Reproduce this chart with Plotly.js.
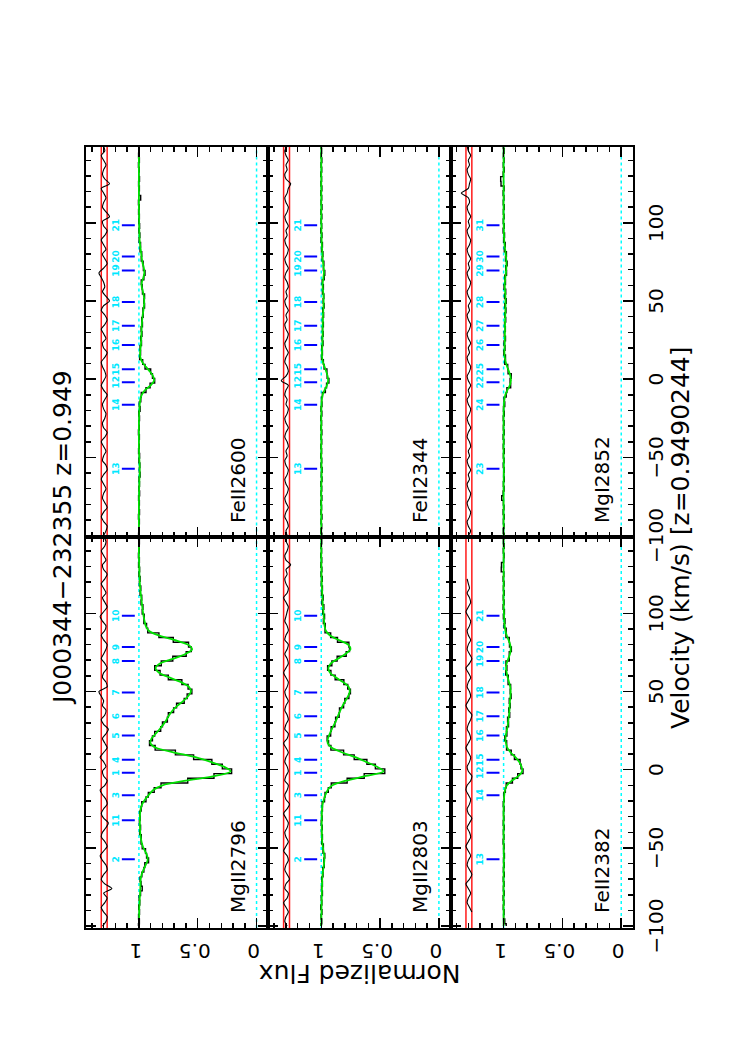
<!DOCTYPE html>
<html>
<head>
<meta charset="utf-8">
<script src="https://cdn.plot.ly/plotly-3.0.1.min.js"></script>
<style>
  html, body { margin: 0; padding: 0; background: #fff; overflow: hidden; }
  /* the figure is drawn landscape, then turned onto the portrait page */
  #page { position: absolute; left: 0; top: 0; width: 1058px; height: 747px;
          transform-origin: 0 0; transform: translate(0px, 1058px) rotate(-90deg); }
</style>
</head>
<body>
<div id="page"></div>
<script>
// pixel velocities (km/s)
const vel = [-100,-97,-94,-91,-88,-85,-82,-79,-76,-73,-70,-67,-64,-61,-58,-55,-52,-49,-46,-43,-40,-37,-34,-31,
  -28,-25,-22,-19,-16,-13,-10,-7,-4,-1,2,5,8,11,14,17,20,23,26,29,32,35,38,41,44,47,50,53,56,59,
  62,65,68,71,74,77,80,83,86,89,92,95,98,101,104,107,110,113,116,119,122,125,128,131,134,137,140,143,146,149];

// MgII 2796
const mg2796Model = [1.0,1.0,0.998,0.998,0.997,0.995,0.993,0.99,0.988,0.987,0.985,0.977,
  0.962,0.943,0.926,0.93,0.948,0.967,0.978,0.985,0.989,0.991,0.992,0.992,
  0.99,0.985,0.972,0.948,0.915,0.878,0.80,0.60,0.35,0.22,0.28,0.39,
  0.52,0.70,0.855,0.902,0.892,0.858,0.823,0.792,0.765,0.742,0.712,0.672,
  0.622,0.582,0.558,0.575,0.642,0.742,0.828,0.858,0.818,0.705,0.605,0.548,
  0.585,0.70,0.838,0.918,0.942,0.952,0.96,0.966,0.971,0.976,0.98,0.985,
  0.989,0.992,0.994,0.996,0.997,0.998,0.999,1.0,1.0,1.0,1.0,1.0];
const mg2796Flux = [1.004,0.996,1.003,0.995,1.002,0.993,0.998,0.986,0.972,0.982,0.99,0.975,
  0.958,0.95,0.918,0.935,0.944,0.972,0.982,0.98,0.994,0.986,0.996,0.99,
  0.994,0.981,0.976,0.94,0.92,0.87,0.812,0.585,0.362,0.212,0.291,0.38,
  0.535,0.69,0.862,0.91,0.885,0.866,0.815,0.8,0.758,0.75,0.705,0.68,
  0.615,0.59,0.55,0.582,0.635,0.75,0.82,0.866,0.81,0.712,0.598,0.555,
  0.578,0.708,0.83,0.925,0.935,0.958,0.955,0.972,0.966,0.982,0.976,0.99,
  0.984,0.996,0.99,1.0,0.994,1.003,0.996,1.004,0.997,1.002,0.996,1.003];
const mg2796Resid = [1.31,1.28,1.27,1.30,1.32,1.29,1.27,1.30,1.23,1.29,1.32,1.30,
  1.27,1.28,1.31,1.33,1.30,1.27,1.29,1.32,1.31,1.28,1.26,1.30,
  1.32,1.30,1.27,1.28,1.31,1.33,1.29,1.27,1.30,1.31,1.28,1.30,
  1.33,1.30,1.27,1.29,1.31,1.28,1.26,1.30,1.32,1.29,1.28,1.31,
  1.30,1.32,1.34,1.27,1.28,1.31,1.30,1.27,1.29,1.32,1.30,1.28,
  1.27,1.30,1.32,1.29,1.28,1.31,1.33,1.30,1.27,1.29,1.31,1.28,
  1.30,1.32,1.29,1.27,1.30,1.31,1.28,1.30,1.32,1.29,1.28,1.30];

// MgII 2803
const mg2803Model = [1.0,0.999,0.999,0.998,0.998,0.997,0.996,0.995,0.994,0.993,0.992,0.989,
  0.984,0.978,0.974,0.975,0.981,0.987,0.992,0.994,0.995,0.996,0.996,0.996,
  0.995,0.993,0.988,0.978,0.964,0.945,0.905,0.79,0.62,0.47,0.53,0.62,
  0.71,0.82,0.91,0.945,0.943,0.928,0.91,0.89,0.871,0.855,0.838,0.818,
  0.795,0.772,0.758,0.768,0.815,0.875,0.925,0.94,0.918,0.858,0.795,0.752,
  0.772,0.855,0.928,0.962,0.972,0.976,0.979,0.982,0.985,0.988,0.99,0.992,
  0.994,0.996,0.997,0.998,0.999,0.999,1.0,1.0,1.0,1.0,1.0,1.0];
const mg2803Flux = [1.003,0.996,1.002,0.994,1.004,0.995,1.0,0.99,0.998,0.99,0.996,0.985,
  0.988,0.975,0.978,0.97,0.985,0.982,0.996,0.99,0.998,0.992,1.0,0.993,
  0.998,0.99,0.992,0.972,0.968,0.94,0.915,0.78,0.635,0.46,0.54,0.612,
  0.72,0.81,0.918,0.938,0.95,0.92,0.916,0.884,0.878,0.848,0.845,0.81,
  0.8,0.765,0.752,0.775,0.808,0.882,0.918,0.946,0.91,0.865,0.788,0.76,
  0.765,0.862,0.92,0.968,0.966,0.982,0.972,0.988,0.978,0.994,0.984,0.998,
  0.99,1.0,0.992,1.002,0.995,1.003,0.996,1.004,0.997,1.002,0.996,1.003];
const mg2803Resid = [1.29,1.31,1.30,1.28,1.30,1.32,1.29,1.28,1.31,1.30,1.27,1.29,
  1.31,1.30,1.28,1.29,1.32,1.30,1.28,1.30,1.31,1.29,1.28,1.30,
  1.32,1.29,1.27,1.30,1.31,1.29,1.28,1.31,1.30,1.28,1.29,1.31,
  1.30,1.28,1.30,1.32,1.29,1.28,1.31,1.30,1.28,1.29,1.31,1.30,
  1.28,1.30,1.31,1.29,1.28,1.30,1.32,1.30,1.28,1.29,1.31,1.29,
  1.28,1.31,1.30,1.28,1.29,1.31,1.30,1.29,1.28,1.30,1.32,1.29,
  1.28,1.30,1.31,1.29,1.30,1.26,1.30,1.31,1.29,1.28,1.30,1.31];

// FeII 2382
const fe2382Model = [1,1,1,1,1,1,1,1,1,1,
  1,1,0.999,0.999,0.998,0.998,0.999,1,1,1,
  1,1,1,1,1,1,0.999,0.997,0.994,0.988,
  0.972,0.93,0.872,0.842,0.848,0.868,0.9,0.94,0.968,0.98,
  0.984,0.979,0.97,0.964,0.959,0.954,0.95,0.949,0.946,0.942,
  0.94,0.944,0.954,0.965,0.974,0.979,0.974,0.96,0.946,0.94,
  0.944,0.958,0.974,0.985,0.99,0.994,0.996,0.998,0.999,1,
  1,1,1,1,1,1,1,1,1,1,
  1,1,1,1];
const fe2382Flux = [0.978,0.99,1.0,0.996,1.003,0.997,1.004,0.995,1.002,0.996,
  1.003,0.994,1.002,0.995,1.001,0.993,1.0,0.996,1.004,0.997,
  1.002,0.995,1.003,0.997,1.001,0.996,1.003,0.994,0.998,0.985,
  0.978,0.925,0.88,0.835,0.852,0.86,0.908,0.935,0.975,0.974,
  0.99,0.972,0.976,0.958,0.966,0.948,0.956,0.944,0.952,0.936,
  0.944,0.94,0.962,0.96,0.982,0.972,0.98,0.952,0.952,0.934,
  0.95,0.952,0.98,0.978,0.996,0.988,1.002,0.993,1.004,0.996,
  1.003,0.995,1.002,0.996,1.004,0.998,1.02,1.018,1.0,0.996,
  1.003,0.995,1.002,0.997];
const fe2382Resid = [null,null,null,1.27,1.29,1.31,1.30,1.28,1.30,1.32,1.29,1.27,
  1.29,1.31,1.30,1.28,1.30,1.32,1.30,1.28,1.29,1.31,1.29,1.27,
  1.30,1.31,1.29,1.28,1.30,1.32,1.31,1.28,1.27,1.30,1.31,1.29,
  1.28,1.30,1.32,1.30,1.28,1.29,1.31,1.30,1.28,1.27,1.30,1.32,
  1.30,1.28,1.29,1.31,1.30,1.28,1.30,1.32,1.29,1.27,1.29,1.31,
  1.30,1.28,1.30,1.31,1.29,1.28,1.30,1.32,1.30,1.28,1.29,1.31,
  1.29,1.30,1.31,null,null,null,null,null,null,null,null,null];

// FeII 2600
const fe2600Model = [1,1,1,1,1,1,1,1,0.999,0.999,
  0.998,0.997,0.996,0.994,0.993,0.994,0.996,0.998,0.999,1,
  1,1,1,1,1,0.999,0.998,0.996,0.993,0.988,
  0.976,0.948,0.9,0.872,0.88,0.908,0.942,0.972,0.988,0.99,
  0.986,0.982,0.98,0.979,0.977,0.975,0.972,0.968,0.962,0.957,
  0.955,0.958,0.966,0.976,0.975,0.962,0.954,0.958,0.968,0.975,
  0.98,0.985,0.99,0.994,0.996,0.997,0.998,0.998,0.999,0.999,
  1,1,1,1,1,1,1,1,1,1,
  1,1,1,1];
const fe2600Flux = [1.003,0.997,1.002,0.996,1.004,0.995,1.001,0.996,1.003,0.994,
  1.0,0.995,0.999,0.99,0.996,0.992,1.0,0.994,1.003,0.997,
  1.002,0.996,1.004,0.997,1.001,0.995,1.002,0.99,0.997,0.984,
  0.98,0.94,0.905,0.866,0.885,0.9,0.948,0.968,0.994,0.986,
  0.99,0.978,0.985,0.974,0.981,0.97,0.976,0.964,0.966,0.952,
  0.958,0.952,0.97,0.972,0.98,0.958,0.948,0.962,0.964,0.98,
  0.976,0.99,0.986,0.998,0.992,1.0,0.994,1.002,0.996,1.003,
  0.997,1.004,0.985,1.002,0.996,1.003,0.995,1.002,0.997,1.004,
  0.996,1.003,0.997,1.002];
const fe2600Resid = [1.30,1.28,1.27,1.30,1.32,1.30,1.27,1.29,1.31,1.30,1.28,1.30,
  1.32,1.30,1.27,1.28,1.31,1.30,1.28,1.30,1.32,1.29,1.27,1.30,
  1.31,1.29,1.28,1.30,1.31,1.29,1.27,1.30,1.32,1.30,1.28,1.29,
  1.31,1.32,1.29,1.27,1.30,1.31,1.28,1.30,1.32,1.29,1.27,1.29,
  1.32,1.30,1.25,1.28,1.31,1.29,1.30,1.32,1.34,1.30,1.27,1.29,
  1.31,1.28,1.30,1.32,1.29,1.27,1.30,1.31,1.25,1.28,1.31,1.30,
  1.28,1.30,1.32,1.25,1.29,1.31,1.30,1.28,1.30,1.32,1.29,1.30];

// FeII 2344
const fe2344Model = [1,1,1,1,1,1,1,1,1,1,
  1,0.999,0.998,0.997,0.997,0.998,0.999,1,1,1,
  1,1,1,1,1,1,1,0.999,0.998,0.995,
  0.988,0.972,0.952,0.942,0.946,0.958,0.972,0.986,0.993,0.994,
  0.992,0.99,0.989,0.988,0.988,0.987,0.986,0.985,0.983,0.981,
  0.98,0.981,0.984,0.988,0.987,0.982,0.977,0.979,0.984,0.988,
  0.99,0.993,0.995,0.997,0.998,0.999,0.999,1,1,1,
  1,1,1,1,1,1,1,1,1,1,
  1,1,1,1];
const fe2344Flux = [0.995,1.004,0.996,1.002,0.994,1.003,0.997,1.004,0.995,1.002,
  0.996,1.003,0.994,1.0,0.993,1.002,0.996,1.004,0.997,1.003,
  0.996,1.002,0.995,1.003,0.997,1.004,0.995,1.002,0.994,0.998,
  0.99,0.965,0.955,0.935,0.95,0.952,0.976,0.982,0.998,0.99,
  0.996,0.985,0.992,0.984,0.99,0.982,0.99,0.98,0.988,0.976,
  0.984,0.978,0.99,0.982,0.992,0.975,0.97,0.982,0.978,0.992,
  0.986,0.998,0.99,1.002,0.994,1.004,0.996,1.002,0.995,1.003,
  0.994,1.002,0.996,1.004,0.995,1.003,0.997,1.004,0.996,1.002,
  0.995,1.003,0.997,1.002];
const fe2344Resid = [1.29,1.30,1.28,1.29,1.31,1.30,1.28,1.30,1.31,1.29,1.28,1.30,
  1.31,1.29,1.28,1.30,1.31,1.29,1.30,1.28,1.29,1.31,1.30,1.28,
  1.30,1.31,1.29,1.28,1.30,1.29,1.31,1.30,1.28,1.34,1.30,1.28,
  1.29,1.31,1.30,1.28,1.30,1.31,1.29,1.28,1.30,1.31,1.29,1.30,
  1.28,1.30,1.31,1.29,1.30,1.28,1.29,1.31,1.30,1.28,1.30,1.31,
  1.29,1.28,1.30,1.31,1.29,1.30,1.28,1.30,1.31,1.29,1.28,1.30,
  1.31,1.29,1.28,1.26,1.30,1.31,1.29,1.30,1.28,1.30,1.31,1.29];

// MgI 2852
const mg2852Model = [1,1,1,1,1,1,1,1,1,1,
  1,1,0.999,0.998,0.998,0.998,0.999,1,1,1,
  1,1,1,1,1,1,1,0.999,0.997,0.993,
  0.985,0.968,0.948,0.938,0.942,0.955,0.97,0.982,0.99,0.993,
  0.992,0.99,0.989,0.989,0.988,0.988,0.987,0.986,0.985,0.984,
  0.984,0.985,0.987,0.99,0.989,0.985,0.98,0.977,0.976,0.978,
  0.982,0.987,0.992,0.995,0.997,0.998,0.999,1,1,1,
  1,1,1,1,1,1,1,1,1,1,
  1,1,1,1];
const mg2852Flux = [0.994,1.003,0.996,1.002,0.995,1.004,0.997,1.002,1.016,1.004,
  0.996,1.002,0.994,1.0,0.995,1.003,0.996,1.002,0.994,1.003,
  0.997,1.004,0.995,1.002,0.996,1.003,0.994,1.001,0.99,0.996,
  0.978,0.972,0.94,0.945,0.935,0.962,0.965,0.99,0.984,0.998,
  0.988,0.996,0.984,0.994,0.985,0.992,0.982,0.99,0.98,0.99,
  0.978,0.992,0.982,0.996,0.984,0.99,0.975,0.982,0.97,0.984,
  0.976,0.994,0.986,1.0,0.992,1.004,0.995,1.003,0.996,1.002,
  0.995,1.003,0.997,1.004,0.996,1.022,1.025,1.004,0.995,1.003,
  0.996,1.002,0.995,1.003];
const mg2852Resid = [1.30,1.28,1.30,1.31,1.29,1.28,1.30,1.31,1.29,1.28,1.30,1.31,
  1.29,1.30,1.28,1.30,1.31,1.29,1.30,1.28,1.29,1.31,1.30,1.28,
  1.30,1.31,1.29,1.28,1.30,1.31,1.29,1.30,1.28,1.30,1.31,1.29,
  1.28,1.30,1.31,1.29,1.30,1.28,1.30,1.31,1.29,1.28,1.30,1.31,
  1.29,1.30,1.28,1.30,1.31,1.29,1.28,1.30,1.31,1.29,1.30,1.28,
  1.30,1.31,1.29,1.28,1.30,1.31,1.29,1.30,1.28,1.30,1.31,1.29,
  1.30,1.36,1.30,1.29,1.28,1.30,1.31,1.29,1.30,1.28,1.30,1.31];

// fitted cloud components
const mgIIVel = [98.5, 78.4, 69.5, 49.4, 34.2, 21.8, 6.3, -2.0, -16.3, -32.4, -57.3];
const mgIINum = ['10','9','8','7','6','5','4','1','3','11','2'];
const feVel = [98.5, 78.4, 69.5, 49.4, 34.2, 21.8, 6.3, -2.0, -16.3, -57.3];
const feIINum = ['21','20','19','18','17','16','15','12','14','13'];
const mgINum = ['31','30','29','28','27','26','25','22','24','23'];

const FONT = 'DejaVu Sans';
const vRange = [-101.2, 148.5];
const fRange = [-0.1, 1.45];
const cols = [[0.1229, 0.4920], [0.4920, 0.8611]];
const rows = [[0.6408, 0.8849], [0.3967, 0.6408], [0.1526, 0.3967]];

const panels = [
    {name: 'MgII2796', flux: mg2796Flux, model: mg2796Model, resid: mg2796Resid, cv: mgIIVel, cn: mgIINum, row: 0, col: 0},
    {name: 'FeII2600', flux: fe2600Flux, model: fe2600Model, resid: fe2600Resid, cv: feVel, cn: feIINum, row: 0, col: 1},
    {name: 'MgII2803', flux: mg2803Flux, model: mg2803Model, resid: mg2803Resid, cv: mgIIVel, cn: mgIINum, row: 1, col: 0},
    {name: 'FeII2344', flux: fe2344Flux, model: fe2344Model, resid: fe2344Resid, cv: feVel, cn: feIINum, row: 1, col: 1},
    {name: 'FeII2382', flux: fe2382Flux, model: fe2382Model, resid: fe2382Resid, cv: feVel, cn: feIINum, row: 2, col: 0},
    {name: 'MgI2852', flux: mg2852Flux, model: mg2852Model, resid: mg2852Resid, cv: feVel, cn: mgINum, row: 2, col: 1}
];

var traces = [];
var shapes = [];
var annotations = [];
var layout = {
    width: 1058, height: 747,
    margin: {l: 0, r: 0, t: 0, b: 0},
    paper_bgcolor: '#fff', plot_bgcolor: '#fff',
    showlegend: false,
    font: {family: FONT, color: '#000'}
};

panels.forEach(function(p, i) {
    var suf = i === 0 ? '' : String(i + 1);
    var xa = 'x' + suf, ya = 'y' + suf;

    layout['xaxis' + suf] = {
        domain: cols[p.col], anchor: ya, range: vRange,
        tick0: 0, dtick: 50, ticks: 'inside', ticklen: 10, tickwidth: 1.5, tickcolor: '#000',
        minor: {dtick: 10, ticks: 'inside', ticklen: 5, tickwidth: 1.5, tickcolor: '#000'},
        showline: true, linecolor: '#000', linewidth: 2, mirror: 'allticks',
        showgrid: false, zeroline: false,
        showticklabels: p.row === 2, ticklabelstandoff: 4,
        tickfont: {family: FONT, size: 20, color: '#000'}
    };
    layout['yaxis' + suf] = {
        domain: rows[p.row], anchor: xa, range: fRange,
        tick0: 0, dtick: 0.5, ticks: 'inside', ticklen: 10, tickwidth: 1.5, tickcolor: '#000',
        minor: {dtick: 0.1, ticks: 'inside', ticklen: 5, tickwidth: 1.5, tickcolor: '#000'},
        showline: true, linecolor: '#000', linewidth: 2, mirror: 'allticks',
        showgrid: false, zeroline: false,
        showticklabels: p.col === 0, tickangle: -90, ticklabelstandoff: 6,
        tickfont: {family: FONT, size: 20, color: '#000'}
    };

    // continuum / zero guides and the residual band
    [0, 1].forEach(function(lev) {
        shapes.push({type: 'line', layer: 'below', xref: xa + ' domain', yref: ya, x0: 0, x1: 1, y0: lev, y1: lev,
            line: {color: '#00ffff', width: 1.5, dash: 'dot'}});
    });
    [1.27, 1.32].forEach(function(lev) {
        shapes.push({type: 'line', layer: 'below', xref: xa + ' domain', yref: ya, x0: 0, x1: 1, y0: lev, y1: lev,
            line: {color: '#ff1a1a', width: 1.5}});
    });

    traces.push({x: vel, y: p.resid, xaxis: xa, yaxis: ya, type: 'scatter', mode: 'lines',
        line: {color: '#000', width: 1.1, shape: 'spline', smoothing: 0.7}, connectgaps: false, hoverinfo: 'skip'});
    traces.push({x: vel, y: p.flux, xaxis: xa, yaxis: ya, type: 'scatter', mode: 'lines',
        line: {color: '#000', width: 1.4, shape: 'hvh'}, hoverinfo: 'skip'});
    traces.push({x: vel, y: p.model, xaxis: xa, yaxis: ya, type: 'scatter', mode: 'lines',
        line: {color: '#00e000', width: 1.8, shape: 'spline', smoothing: 0.8}, hoverinfo: 'skip'});

    // component tick marks
    var tx = [], ty = [];
    p.cv.forEach(function(v) {
        tx.push(v, v, null);
        ty.push(1.035, 1.145, null);
    });
    traces.push({x: tx, y: ty, xaxis: xa, yaxis: ya, type: 'scatter', mode: 'lines',
        line: {color: '#0000ff', width: 2}, hoverinfo: 'skip'});
    traces.push({x: p.cv, y: p.cv.map(function() { return 1.19; }), text: p.cn, xaxis: xa, yaxis: ya,
        type: 'scatter', mode: 'text', textposition: 'middle center',
        textfont: {family: FONT, size: 9, color: '#00e8ff', weight: 'bold'}, hoverinfo: 'skip'});

    annotations.push({xref: xa, yref: ya, x: -93, y: 0.16, xanchor: 'left', yanchor: 'middle',
        text: p.name, showarrow: false, font: {family: FONT, size: 20, color: '#000'}});
});

annotations.push({xref: 'paper', yref: 'paper', x: 0.492, y: 1 - 62 / 747, xanchor: 'center', yanchor: 'middle',
    text: 'J000344\u2212232355 z=0.949', showarrow: false, font: {family: FONT, size: 25, color: '#000'}});
annotations.push({xref: 'paper', yref: 'paper', x: 0.492, y: 1 - 680 / 747, xanchor: 'center', yanchor: 'middle',
    text: 'Velocity (km/s) [z=0.9490244]', showarrow: false, font: {family: FONT, size: 25, color: '#000'}});
annotations.push({xref: 'paper', yref: 'paper', x: 85 / 1058, y: 1 - 359.5 / 747, xanchor: 'center', yanchor: 'middle',
    textangle: -90, text: 'Normalized Flux', showarrow: false, font: {family: FONT, size: 25, color: '#000'}});

layout.shapes = shapes;
layout.annotations = annotations;

Plotly.newPlot('page', traces, layout, {staticPlot: true, displayModeBar: false});
</script>
</body>
</html>
